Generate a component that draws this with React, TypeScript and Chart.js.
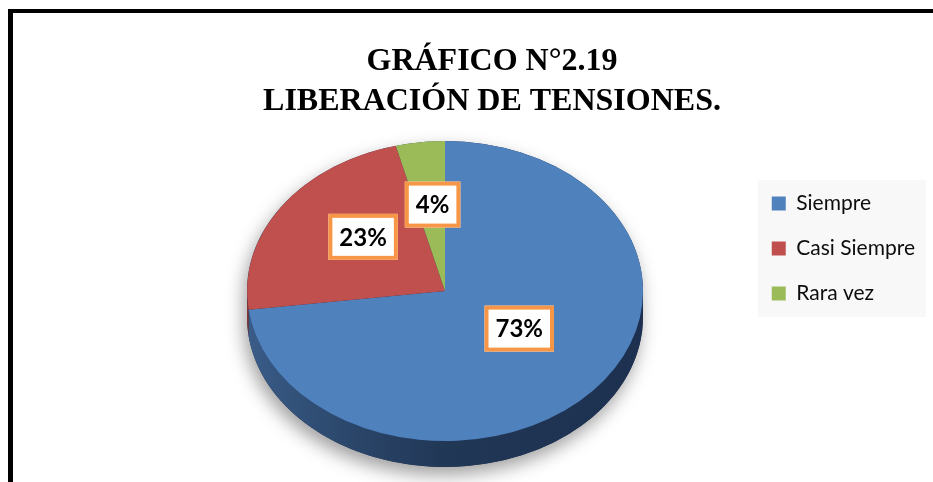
import React, { useEffect, useRef } from 'react';
import { Chart, registerables } from 'chart.js';

Chart.register(...registerables);

// ---- data ----
const categories = ['Siempre', 'Casi Siempre', 'Rara vez'];
const values = [73, 23, 4];
const percentLabels = ['73%', '23%', '4%'];
const titleLines = ['GRÁFICO N°2.19', 'LIBERACIÓN DE TENSIONES.'];

// ---- styles ----
const sliceColors = ['#4F81BD', '#C0504D', '#9BBB59'];
const sideStops: [number, string][][] = [
  [[0, '#3A5C88'], [0.25, '#2B476B'], [0.5, '#213756'], [1, '#1D3050']],
  [[0, '#873634'], [1, '#6E2826']],
  [[0, '#6E8A3A'], [1, '#56702C']],
];
const PIE_CX = 445;
const PIE_CY = 291;
const PIE_RX = 198;
const PIE_RY = 150;
const DEPTH = 26;
const LABEL_R = 0.5;
const LABEL_DY = -12;
const LEGEND_FONT = 21;
const LEGEND_PAD = 24;

function frontIntervals(s: number, e: number) {
  const out: [number, number][] = [];
  for (let k = -1; k <= 1; k++) {
    const lo = Math.max(s, 2 * Math.PI * k);
    const hi = Math.min(e, Math.PI + 2 * Math.PI * k);
    if (hi > lo) out.push([lo, hi]);
  }
  return out;
}

const pie3dPlugin = {
  id: 'pie3d',
  beforeDraw(chart: any) {
    const lg = chart.legend;
    if (!lg) return;
    const ctx = chart.ctx;
    const lineH = LEGEND_FONT + LEGEND_PAD;
    const left = lg.left + LEGEND_PAD - 14;
    const top = lg.top + LEGEND_PAD - 13;
    const right = Math.min(left + 168, chart.width);
    const bottom = lg.top + LEGEND_PAD + categories.length * lineH - LEGEND_PAD + 13;
    ctx.save();
    ctx.fillStyle = '#F8F8F8';
    ctx.fillRect(left, top, right - left, bottom - top);
    ctx.restore();
  },
  beforeDatasetsDraw(chart: any) {
    const ctx = chart.ctx;
    const meta = chart.getDatasetMeta(0);
    const a0 = meta.data[0] as any;
    const sx = PIE_RX / a0.outerRadius;
    const sy = PIE_RY / a0.outerRadius;

    // body silhouette with soft shadow
    ctx.save();
    ctx.shadowColor = 'rgba(0,0,0,0.38)';
    ctx.shadowBlur = 18;
    ctx.shadowOffsetX = -3;
    ctx.shadowOffsetY = 8;
    ctx.beginPath();
    ctx.ellipse(PIE_CX, PIE_CY, PIE_RX, PIE_RY, 0, Math.PI, 2 * Math.PI);
    ctx.ellipse(PIE_CX, PIE_CY + DEPTH, PIE_RX, PIE_RY, 0, 0, Math.PI);
    ctx.closePath();
    ctx.fillStyle = '#1D3050';
    ctx.fill();
    ctx.restore();

    // sides of each slice
    meta.data.forEach((arc: any, i: number) => {
      const grad = ctx.createLinearGradient(PIE_CX - PIE_RX, 0, PIE_CX + PIE_RX, 0);
      sideStops[i].forEach(([p, c]) => grad.addColorStop(p, c));
      frontIntervals(arc.startAngle, arc.endAngle).forEach(([a, b]) => {
        ctx.save();
        ctx.beginPath();
        ctx.ellipse(PIE_CX, PIE_CY, PIE_RX, PIE_RY, 0, a, b, false);
        ctx.ellipse(PIE_CX, PIE_CY + DEPTH, PIE_RX, PIE_RY, 0, b, a, true);
        ctx.closePath();
        ctx.fillStyle = grad;
        ctx.fill();
        ctx.restore();
      });
    });

    // squash the pie drawn by chart.js into the top surface ellipse
    ctx.save();
    ctx.translate(PIE_CX, PIE_CY);
    ctx.scale(sx, sy);
    ctx.translate(-a0.x, -a0.y);
  },
  afterDatasetsDraw(chart: any) {
    const ctx = chart.ctx;
    ctx.restore();
    const meta = chart.getDatasetMeta(0);
    ctx.save();
    ctx.font = 'bold 24px Lato';
    ctx.textAlign = 'center';
    ctx.textBaseline = 'middle';
    meta.data.forEach((arc: any, i: number) => {
      const mid = (arc.startAngle + arc.endAngle) / 2;
      const X = PIE_CX + PIE_RX * LABEL_R * Math.cos(mid);
      const Y = PIE_CY + PIE_RY * LABEL_R * Math.sin(mid) + LABEL_DY;
      const text = percentLabels[i];
      const w = ctx.measureText(text).width + 22;
      const h = 46;
      ctx.fillStyle = '#FFFFFF';
      ctx.fillRect(X - w / 2, Y - h / 2, w, h);
      ctx.strokeStyle = '#F79646';
      ctx.lineWidth = 4;
      ctx.strokeRect(X - w / 2 + 2, Y - h / 2 + 2, w - 4, h - 4);
      ctx.fillStyle = '#000000';
      ctx.fillText(text, X, Y + 1);
    });
    ctx.restore();
  },
};

export default function App() {
  const canvasRef = useRef<HTMLCanvasElement | null>(null);

  useEffect(() => {
    const canvas = canvasRef.current;
    if (!canvas) return;
    const chart = new Chart(canvas, {
      type: 'pie',
      data: {
        labels: categories,
        datasets: [
          {
            data: values,
            backgroundColor: sliceColors,
            borderWidth: 0,
            clip: false as any,
          },
        ],
      },
      options: {
        responsive: false,
        animation: false,
        events: [],
        layout: { padding: { left: 59, right: 8, top: 0, bottom: 0 } },
        plugins: {
          title: {
            display: true,
            text: titleLines,
            color: '#000000',
            font: { family: 'Liberation Serif', size: 32, weight: 'bold', lineHeight: 1.25 },
            padding: { top: 42, bottom: 47 },
          },
          legend: {
            display: true,
            position: 'right',
            align: 'start',
            fullSize: false,
            labels: {
              color: '#0D0D0D',
              font: { family: 'Lato', size: LEGEND_FONT },
              boxWidth: 14,
              boxHeight: 14,
              padding: LEGEND_PAD,
            },
          },
          tooltip: { enabled: false },
        },
      },
      plugins: [pie3dPlugin],
    });
    return () => chart.destroy();
  }, []);

  return (
    <div
      style={{
        position: 'absolute',
        left: 0,
        top: 0,
        width: 933,
        height: 482,
        overflow: 'hidden',
        background: '#FFFFFF',
      }}
    >
      <canvas ref={canvasRef} width={933} height={482} style={{ position: 'absolute', left: 0, top: 0 }} />
      <div
        style={{
          position: 'absolute',
          left: 8,
          top: 9,
          width: 1200,
          height: 800,
          borderLeft: '5px solid #000',
          borderTop: '4px solid #000',
          pointerEvents: 'none',
        }}
      />
    </div>
  );
}
